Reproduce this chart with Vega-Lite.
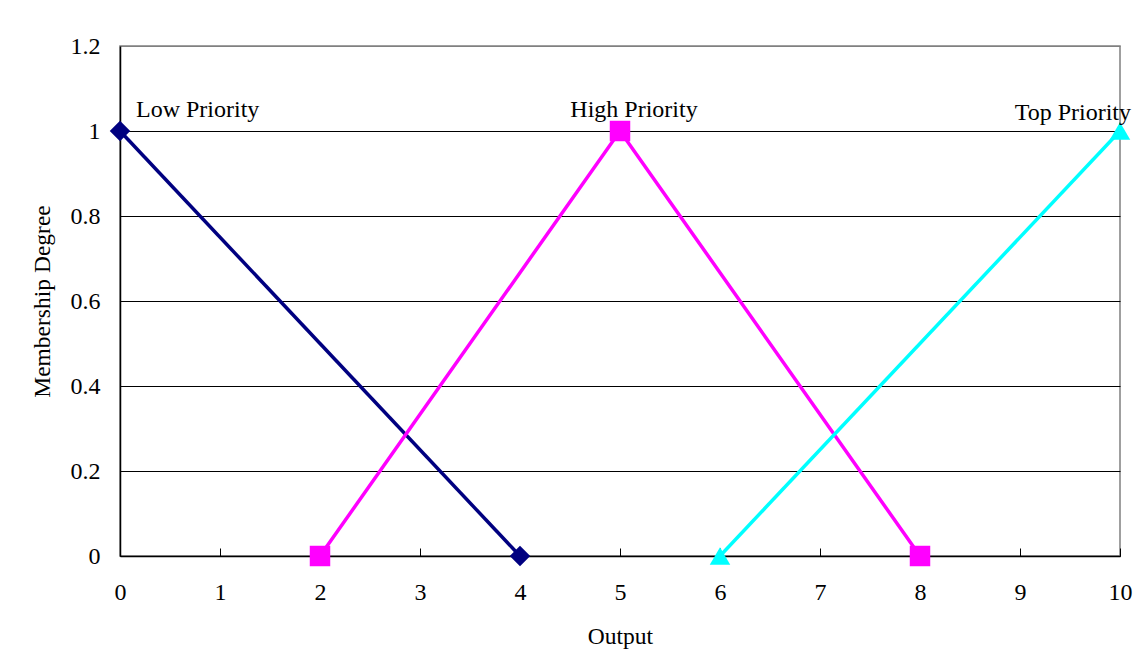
{
  "$schema": "https://vega.github.io/schema/vega-lite/v6.json",
  "autosize": {"type": "none"},
  "width": 1000,
  "height": 510,
  "padding": {"left": 120, "top": 46, "right": 25, "bottom": 114},
  "background": "white",
  "config": {
    "font": "Liberation Serif",
    "view": {"stroke": "#808080", "strokeWidth": 1.5},
    "axis": {"labelFont": "Liberation Serif", "titleFont": "Liberation Serif", "labelColor": "black", "titleColor": "black", "titleFontWeight": "normal", "labelFontSize": 24, "titleFontSize": 23.5, "domainColor": "black", "domainWidth": 1.5}
  },
  "data": {"values": [
    {"series": "Low Priority", "x": 0, "y": 1},
    {"series": "Low Priority", "x": 4, "y": 0},
    {"series": "High Priority", "x": 2, "y": 0},
    {"series": "High Priority", "x": 5, "y": 1},
    {"series": "High Priority", "x": 8, "y": 0},
    {"series": "Top Priority", "x": 6, "y": 0},
    {"series": "Top Priority", "x": 10, "y": 1}
  ]},
  "encoding": {
    "x": {"field": "x", "type": "quantitative", "scale": {"domain": [0, 10], "nice": false, "zero": false},
      "axis": {"title": "Output", "values": [0,1,2,3,4,5,6,7,8,9,10], "grid": false, "tickSize": -8, "tickColor": "black", "tickWidth": 1, "labelPadding": 32, "titlePadding": 20, "labelFlush": false}},
    "y": {"field": "y", "type": "quantitative", "scale": {"domain": [0, 1.2], "nice": false},
      "axis": {"title": "Membership Degree", "format": "~g", "values": [0, 0.2, 0.4, 0.6, 0.8, 1, 1.2], "ticks": false, "labelPadding": 20, "titlePadding": 16, "labelFlush": false, "grid": true, "gridColor": {"condition": {"test": "datum.value > 1.1", "value": "#808080"}, "value": "black"}, "gridWidth": 1, "gridOpacity": 1}},
    "color": {"field": "series", "type": "nominal", "legend": null,
      "scale": {"domain": ["Low Priority", "High Priority", "Top Priority"], "range": ["#000080", "#FF00FF", "#00FFFF"]}}
  },
  "layer": [
    {"mark": {"type": "line", "strokeWidth": 3.5}, "encoding": {"detail": {"field": "series"}}},
    {"mark": {"type": "point", "filled": true, "opacity": 1, "size": 420}, "encoding": {
      "shape": {"field": "series", "type": "nominal", "legend": null, "scale": {"domain": ["Low Priority", "High Priority", "Top Priority"], "range": ["diamond", "square", "triangle-up"]}}
    }},
    {"transform": [{"filter": "datum.series == 'Low Priority' && datum.y == 1"}],
      "mark": {"type": "text", "align": "left", "baseline": "middle", "dx": 16, "dy": -21, "fontSize": 24, "font": "Liberation Serif"},
      "encoding": {"text": {"field": "series"}, "color": {"value": "black"}}},
    {"transform": [{"filter": "datum.series == 'High Priority' && datum.y == 1"}],
      "mark": {"type": "text", "align": "center", "baseline": "middle", "dx": 14, "dy": -21, "fontSize": 24, "font": "Liberation Serif"},
      "encoding": {"text": {"field": "series"}, "color": {"value": "black"}}},
    {"transform": [{"filter": "datum.series == 'Top Priority' && datum.y == 1"}],
      "mark": {"type": "text", "align": "right", "baseline": "middle", "dx": 11, "dy": -18, "fontSize": 24, "font": "Liberation Serif"},
      "encoding": {"text": {"field": "series"}, "color": {"value": "black"}}}
  ]
}
